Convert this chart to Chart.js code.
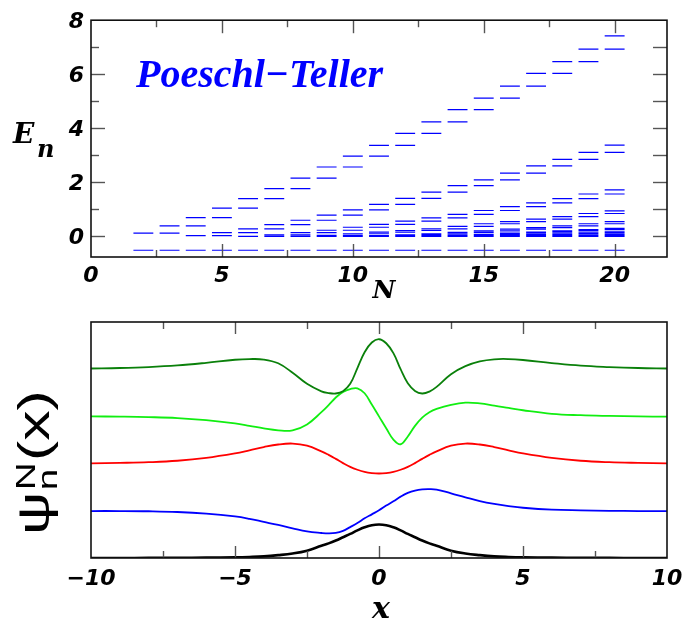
<!DOCTYPE html>
<html><head><meta charset="utf-8">
<script src="https://cdn.jsdelivr.net/npm/chart.js@4.4.0/dist/chart.umd.min.js"></script>
<style>
html,body{margin:0;padding:0;background:#fff;width:694px;height:619px;overflow:hidden}
canvas{position:absolute;left:0}
#c1{top:0}
#c2{top:305px}
</style></head><body>
<canvas id="c1" width="694" height="305"></canvas>
<canvas id="c2" width="694" height="314"></canvas>
<script>
// ---------- top panel data ----------
const topXTicks = [0, 5, 10, 15, 20];
const topYTicks = [0, 2, 4, 6, 8];
const nValues = [2,3,4,5,6,7,8,9,10,11,12,13,14,15,16,17,18,19,20];
const groundLevel = -0.51;
// each band starts at N = bandStarts[k]; level k of N is shown together with level k of N-1
const bandStarts = [2, 4, 6, 8, 10, 12, 14, 16, 18, 20];
const band1 = [0.12,0.39,0.70,1.05,1.40,1.77,2.16,2.57,2.97,3.37,3.81,4.24,4.69,5.12,5.56,6.03,6.47,6.93,7.42];
const band2 = [0.03,0.14,0.28,0.44,0.60,0.79,0.98,1.19,1.41,1.64,1.88,2.09,2.34,2.61,2.85,3.11,3.38];
const band3 = [0.00,0.06,0.14,0.23,0.34,0.45,0.57,0.69,0.82,0.96,1.10,1.24,1.40,1.57,1.72];
const band4 = [0.00,0.04,0.10,0.16,0.22,0.28,0.37,0.47,0.55,0.64,0.73,0.85,0.95];
const band5 = [0.00,0.03,0.06,0.10,0.15,0.21,0.27,0.33,0.39,0.47,0.55];
const band6 = [0.00,0.02,0.05,0.08,0.12,0.16,0.21,0.25,0.30];
const band7 = [0.00,0.02,0.04,0.07,0.10,0.13,0.17];
const band8 = [0.00,0.01,0.03,0.05,0.08];
const band9 = [0.00,0.01,0.03];
const band10 = [0.00];

// ---------- bottom panel data ----------
const botXTicks = [-10, -5, 0, 5, 10];
const xs = [-10,-9,-8,-7,-6,-5,-4.5,-4,-3.5,-3,-2.5,-2,-1.75,-1.5,-1.25,-1,-0.75,-0.5,-0.25,0,
            0.25,0.5,0.75,1,1.25,1.5,1.75,2,2.5,3,3.5,4,4.5,5,6,7,8,9,10];
const psi0 = [0,0,0.005,0.01,0.015,0.03,0.045,0.07,0.12,0.19,0.31,0.52,0.62,0.74,0.88,1.02,1.17,1.30,1.39,1.42,
              1.39,1.30,1.17,1.02,0.88,0.74,0.62,0.52,0.31,0.19,0.12,0.07,0.045,0.03,0.015,0.01,0.005,0,0];
const psi1 = [1.99,1.99,1.98,1.95,1.88,1.76,1.66,1.53,1.40,1.26,1.13,1.06,1.04,1.06,1.15,1.31,1.48,1.68,1.85,2.02,
              2.22,2.40,2.60,2.76,2.86,2.91,2.92,2.90,2.74,2.57,2.41,2.29,2.20,2.13,2.05,2.02,2.00,1.99,1.99];
const psi2 = [4.01,4.03,4.06,4.12,4.24,4.43,4.56,4.70,4.81,4.85,4.76,4.52,4.37,4.20,4.02,3.86,3.74,3.65,3.60,3.58,
              3.60,3.65,3.74,3.86,4.02,4.20,4.37,4.52,4.76,4.85,4.81,4.70,4.56,4.43,4.24,4.12,4.06,4.03,4.01];
const psi3 = [6.00,5.99,5.97,5.93,5.84,5.70,5.60,5.49,5.41,5.41,5.66,6.18,6.48,6.80,7.04,7.16,7.19,6.98,6.50,6.00,
              5.50,5.02,4.82,5.15,5.60,5.95,6.18,6.32,6.49,6.58,6.55,6.46,6.36,6.26,6.11,6.05,6.02,6.00,5.99];
const psi4 = [8.03,8.05,8.09,8.16,8.27,8.40,8.43,8.41,8.25,7.85,7.38,7.06,6.99,6.97,7.07,7.38,8.05,8.72,9.13,9.27,
              9.10,8.68,8.00,7.40,7.08,6.97,7.05,7.25,7.79,8.13,8.33,8.42,8.43,8.39,8.26,8.15,8.09,8.05,8.03];

// ---------- build top segments ----------
const bands = [band1,band2,band3,band4,band5,band6,band7,band8,band9,band10];
const HALF = 0.38;
function bandValue(k, N) {
  const i = N - bandStarts[k];
  return (i >= 0 && i < bands[k].length) ? bands[k][i] : null;
}
const segData = [];
nValues.forEach(N => {
  const lv = [groundLevel];
  bands.forEach((b, k) => {
    const a = bandValue(k, N); if (a !== null) lv.push(a);
    const c = bandValue(k, N - 1); if (c !== null) lv.push(c);
  });
  lv.forEach(e => { segData.push({x: N - HALF, y: e}, {x: N + HALF, y: e}, {x: N, y: null}); });
});

const tickFont = {family: '"DejaVu Sans"', size: 22, weight: 'bold', style: 'italic'};
const SERIF = '"DejaVu Serif", "Liberation Serif", serif';
const minus = v => (v < 0 ? '\u2212' + Math.abs(v) : String(v));

const decor = {
  id: 'decor',
  afterDraw(chart, args, o) {
    const {ctx, chartArea: a, scales} = chart;
    ctx.save();
    ctx.strokeStyle = '#555'; ctx.lineWidth = 1.4;
    (o.marks || []).forEach(m => {
      const sc = scales[m.axis];
      m.values.forEach(v => {
        const p = Math.round(sc.getPixelForValue(v)) + 0.5;
        ctx.beginPath();
        if (m.side === 'bottom') { ctx.moveTo(p, a.bottom); ctx.lineTo(p, a.bottom - m.len); }
        if (m.side === 'top') { ctx.moveTo(p, a.top); ctx.lineTo(p, a.top + m.len); }
        if (m.side === 'left') { ctx.moveTo(a.left, p); ctx.lineTo(a.left + m.len, p); }
        if (m.side === 'right') { ctx.moveTo(a.right, p); ctx.lineTo(a.right - m.len, p); }
        ctx.stroke();
      });
    });
    ctx.strokeStyle = '#111'; ctx.lineWidth = 1.6;
    ctx.strokeRect(a.left, a.top, a.right - a.left, a.bottom - a.top);
    (o.texts || []).forEach(t => {
      ctx.font = t.font; ctx.fillStyle = t.color || '#000';
      ctx.textAlign = t.align || 'left'; ctx.textBaseline = 'alphabetic';
      ctx.fillText(t.text, t.x, t.y);
    });
    if (o.psi) {
      const q = o.psi;
      ctx.translate(q.x, q.y); ctx.rotate(-Math.PI / 2); ctx.scale(q.stretch, 1);
      ctx.fillStyle = '#000'; ctx.textAlign = 'left';
      ctx.font = q.big; ctx.fillText('\u03C8', 0, 0);
      let w = ctx.measureText('\u03C8').width;
      ctx.font = q.small;
      ctx.fillText('n', w + 1, q.sub);
      ctx.fillText('N', w + 1, q.sup);
      const w2 = Math.max(ctx.measureText('n').width, ctx.measureText('N').width);
      ctx.font = q.big; ctx.fillText('(x)', w + w2 + 2, 0);
    }
    ctx.restore();
  }
};

new Chart(document.getElementById('c1'), {
  type: 'scatter',
  data: {datasets: [{data: segData, showLine: true, borderColor: '#0000ff', borderWidth: 1.2,
                     pointRadius: 0, spanGaps: false, tension: 0}]},
  options: {
    responsive: false, animation: false, events: [],
    layout: {padding: {left: 0, right: 27, top: 19, bottom: 0}},
    plugins: {
      legend: {display: false}, tooltip: {enabled: false},
      decor: {
        marks: [
          {axis: 'x', side: 'bottom', values: [5, 10, 15, 20], len: 13},
          {axis: 'x', side: 'bottom', values: [2.5, 7.5, 12.5, 17.5], len: 7},
          {axis: 'x', side: 'top', values: [5, 10, 15, 20], len: 13},
          {axis: 'x', side: 'top', values: [2.5, 7.5, 12.5, 17.5], len: 7},
          {axis: 'y', side: 'left', values: [0, 2, 4, 6], len: 14},
          {axis: 'y', side: 'left', values: [1, 3, 5, 7], len: 8},
          {axis: 'y', side: 'right', values: [0, 1, 2, 3, 4, 5, 6, 7], len: 14}
        ],
        texts: [
          {text: 'Poeschl\u2212Teller', x: 136, y: 87, color: '#0000ff', font: 'italic bold 40px "Liberation Serif"'},
          {text: 'E', x: 13, y: 143, font: 'italic bold 28px ' + SERIF},
          {text: 'n', x: 37, y: 157, font: 'italic bold 24px ' + SERIF},
          {text: 'N', x: 384, y: 298, align: 'center', font: 'italic bold 25px ' + SERIF}
        ]
      }
    },
    scales: {
      x: {type: 'linear', min: 0, max: 22,
          afterBuildTicks: s => { s.ticks = topXTicks.map(v => ({value: v})); },
          afterFit: s => { s.height = 48; },
          grid: {display: false, drawTicks: false}, border: {display: false},
          ticks: {font: tickFont, color: '#000', padding: 6, autoSkip: false, maxRotation: 0}},
      y: {type: 'linear', min: -0.76, max: 8,
          afterBuildTicks: s => { s.ticks = topYTicks.map(v => ({value: v})); },
          afterFit: s => { s.width = 91; },
          grid: {display: false, drawTicks: false}, border: {display: false},
          ticks: {font: tickFont, color: '#000', padding: 7, labelOffset: 2}}
    }
  },
  plugins: [decor]
});

const curve = (ys, color, w) => ({
  data: xs.map((x, i) => ({x: x, y: ys[i]})), borderColor: color, borderWidth: w,
  pointRadius: 0, tension: 0.4, fill: false
});

new Chart(document.getElementById('c2'), {
  type: 'line',
  data: {datasets: [
    curve(psi4, '#0a800a', 1.8),
    curve(psi3, '#11ee11', 1.8),
    curve(psi2, '#ff0000', 1.8),
    curve(psi1, '#0000ff', 1.8),
    curve(psi0, '#000000', 2.6)
  ]},
  options: {
    responsive: false, animation: false, events: [],
    layout: {padding: {left: 0, right: 27, top: 17, bottom: 0}},
    plugins: {
      legend: {display: false}, tooltip: {enabled: false},
      decor: {
        marks: [
          {axis: 'x', side: 'bottom', values: [-5, 0, 5], len: 12},
          {axis: 'x', side: 'bottom', values: [-7.5, -2.5, 2.5, 7.5], len: 7},
          {axis: 'x', side: 'top', values: [-5, 0, 5], len: 12},
          {axis: 'x', side: 'top', values: [-7.5, -2.5, 2.5, 7.5], len: 7}
        ],
        texts: [
          {text: 'x', x: 381, y: 313, align: 'center', font: 'italic bold 30px ' + SERIF}
        ],
        psi: {x: 49, y: 230, stretch: 1.38, big: '44px "Liberation Sans"', small: '28px "Liberation Sans"', sub: 8, sup: -14}
      }
    },
    scales: {
      x: {type: 'linear', min: -10, max: 10,
          afterBuildTicks: s => { s.ticks = botXTicks.map(v => ({value: v})); },
          afterFit: s => { s.height = 61; },
          grid: {display: false, drawTicks: false}, border: {display: false},
          ticks: {font: tickFont, color: '#000', padding: 8, autoSkip: false, maxRotation: 0,
                  callback: v => minus(v)}},
      y: {type: 'linear', min: 0, max: 10,
          afterFit: s => { s.width = 91; },
          grid: {display: false, drawTicks: false}, border: {display: false},
          ticks: {display: false}}
    }
  },
  plugins: [decor]
});
</script>
</body></html>
